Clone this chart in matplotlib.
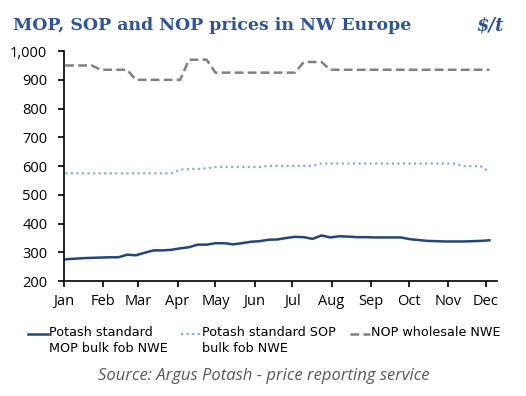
import pandas as pd
import matplotlib
matplotlib.use('Agg')
import matplotlib.pyplot as plt
import matplotlib.dates as mdates
from matplotlib.lines import Line2D
from matplotlib.ticker import FuncFormatter

# Weekly assessments, $/t
dates = pd.date_range('2019-01-02', periods=49, freq='7D')

mop = [276, 278, 280, 281, 282, 283, 283, 292, 290, 299,
       307, 307, 309, 314, 318, 327, 327, 332, 332, 328,
       332, 337, 339, 344, 345, 350, 354, 353, 347, 359,
       352, 356, 355, 353, 353, 352, 352, 352, 352, 346,
       343, 340, 339, 338, 338, 338, 339, 340, 342]

sop = [575, 575, 575, 575, 575, 575, 575, 575, 575, 575,
       575, 575, 575, 588, 590, 590, 592, 597, 597, 597,
       597, 597, 597, 601, 601, 601, 601, 601, 601, 609,
       609, 609, 609, 609, 609, 609, 609, 609, 609, 609,
       609, 609, 609, 609, 609, 600, 600, 600, 580]

nop = [950, 950, 950, 950, 935, 935, 935, 935, 900, 900,
       900, 900, 900, 900, 970, 970, 970, 925, 925, 925,
       925, 925, 925, 925, 925, 925, 925, 962, 962, 962,
       935, 935, 935, 935, 935, 935, 935, 935, 935, 935,
       935, 935, 935, 935, 935, 935, 935, 935, 935]

labels = ['Potash standard\nMOP bulk fob NWE',
          'Potash standard SOP\nbulk fob NWE',
          'NOP wholesale NWE']

styles = [dict(color='#23467a', linewidth=1.8, linestyle='-'),
          dict(color='#8fa9db', linewidth=1.6, linestyle=(0, (1, 1.5))),
          dict(color='#808080', linewidth=1.8, linestyle=(0, (3.5, 1.7)))]

fig = plt.figure(figsize=(5.26, 3.96), dpi=100)
ax = fig.add_axes([0.1217, 0.29, 0.823, 0.581])

for series, st in zip([mop, sop, nop], styles):
    ax.plot(dates, series, **st)

ax.set_ylim(200, 1000)
ax.set_yticks(range(200, 1001, 100))
ax.yaxis.set_major_formatter(FuncFormatter(lambda v, p: f'{int(v):,}'))
ax.set_xlim(pd.Timestamp('2019-01-01'), pd.Timestamp('2019-12-10'))
ax.xaxis.set_major_locator(mdates.MonthLocator())
ax.xaxis.set_major_formatter(mdates.DateFormatter('%b'))

for side in ['top', 'right']:
    ax.spines[side].set_visible(False)
ax.spines['left'].set_linewidth(1.2)
ax.spines['bottom'].set_linewidth(1.2)
ax.tick_params(direction='out', length=4, width=1.2, labelsize=10.5, colors='black')
ax.tick_params(axis='x', pad=5)
ax.tick_params(axis='y', pad=8)
for lab in ax.get_xticklabels() + ax.get_yticklabels():
    lab.set_family('Open Sans')

# Title and unit
fig.text(0.025, 0.935, 'MOP, SOP and NOP prices in NW Europe', family='DejaVu Serif',
         fontweight='bold', fontsize=12.5, color='#2e5597', va='center')
fig.text(0.958, 0.935, r'\$/t', family='DejaVu Serif', fontweight='bold', style='italic',
         fontsize=13, color='#2e5597', va='center', ha='right')

# Legend below the plot, handle level with the first line of each label
W, H = 526.0, 396.0
legend_x = [(28, 48), (181, 201), (350, 370)]
line_y = 334
for (x0, x1), st, lab in zip(legend_x, styles, labels):
    fig.add_artist(Line2D([x0 / W, x1 / W], [1 - line_y / H] * 2,
                          transform=fig.transFigure, **st))
    fig.text((x1 + 1) / W, 1 - (line_y - 8) / H, lab, fontsize=9.2, va='top',
             ha='left', linespacing=1.35, color='black')

fig.text(264 / W, 1 - 376 / H, 'Source: Argus Potash - price reporting service',
         family='Open Sans', style='italic', fontsize=12, color='#595959',
         ha='center', va='center')

fig.savefig('out.png', dpi=100)
